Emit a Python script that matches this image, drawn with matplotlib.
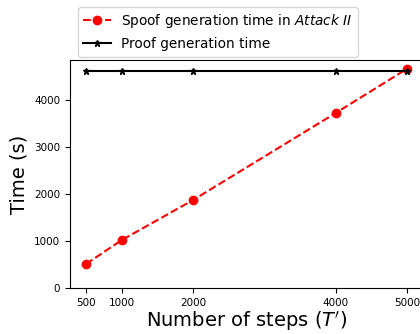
import matplotlib
matplotlib.use("Agg")
import matplotlib.pyplot as plt

steps = [500, 1000, 2000, 4000, 5000]
spoof_time = [510, 1020, 1870, 3720, 4660]
proof_time = [4610, 4610, 4610, 4610, 4610]


def main():
    fig = plt.figure(figsize=(4.2, 3.34), dpi=100)
    ax = fig.add_axes([0.1667, 0.1377, 0.84, 0.6826])

    ax.plot(steps, spoof_time, "r--o", markersize=6,
            label="Spoof generation time in $\\it{Attack\\ II}$")
    ax.plot(steps, proof_time, "k-*", markersize=5,
            label="Proof generation time")

    ax.set_xticks(steps)
    ax.set_ylim(0, 4850)
    ax.set_yticks([0, 1000, 2000, 3000, 4000])
    ax.tick_params(labelsize=7.5)
    ax.set_xlabel("Number of steps ($T'$)", fontsize=14, labelpad=1)
    ax.set_ylabel("Time (s)", fontsize=14)

    fig.legend(loc="upper center", bbox_to_anchor=(0.519, 1.0), fontsize=9.8)

    fig.savefig("out.png", dpi=100)


if __name__ == "__main__":
    main()
